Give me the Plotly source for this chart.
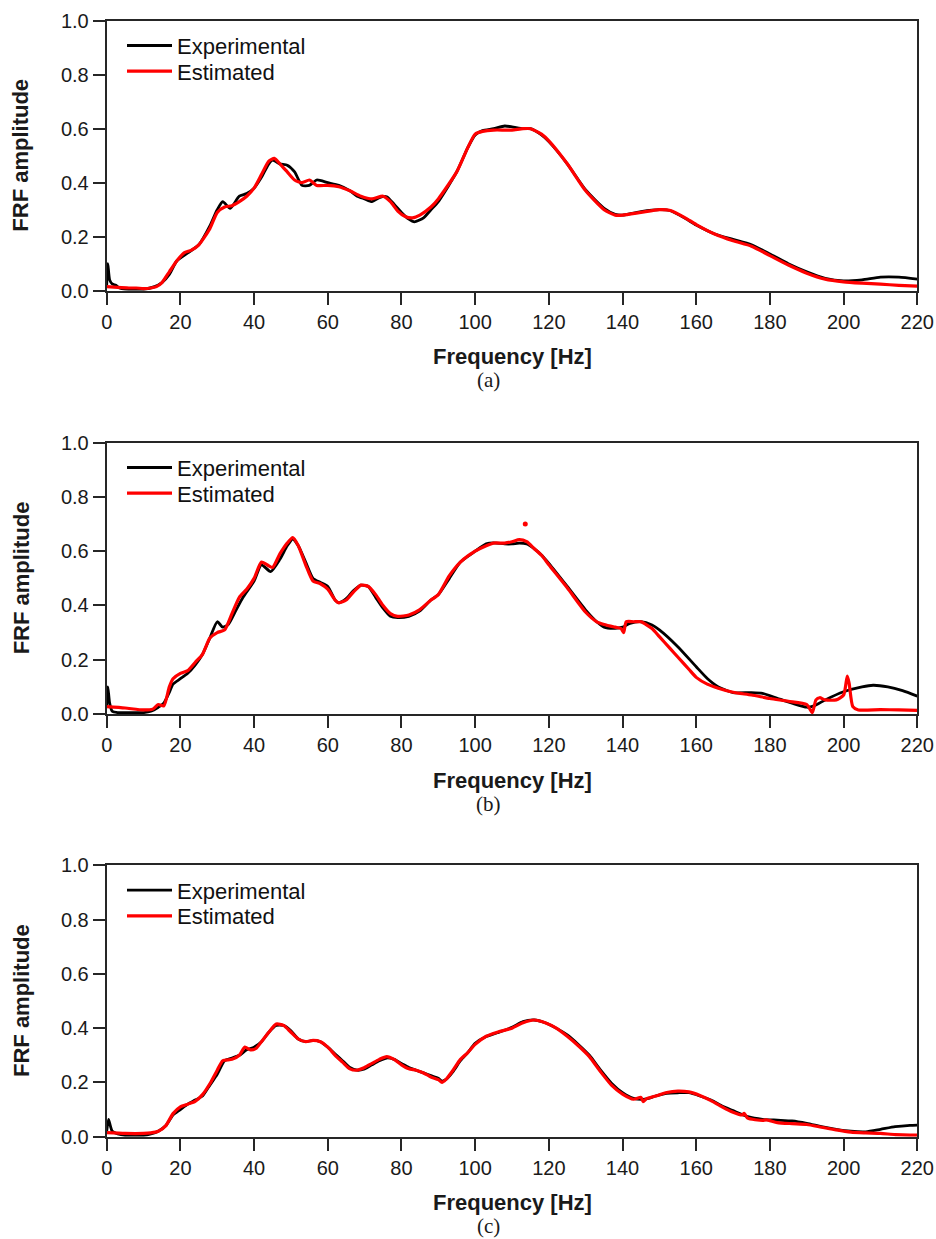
import plotly.graph_objects as go

# ---------------- data ----------------
# Panel (a)
fa_exp = [0, 0.3, 0.8, 1.5, 2.5, 3.5, 5, 8, 10, 13, 15, 17, 19, 22, 25, 28, 30, 31.5, 33.5, 36, 38, 40, 42, 44, 45, 47, 49, 51, 53, 55, 57, 60, 63, 66, 68, 70, 72, 74, 76, 78, 80, 82, 83.5, 86, 88, 90, 95, 98, 100, 102, 105, 108, 110, 113, 115, 118, 120, 125, 130, 135, 138, 140, 145, 150, 153, 157, 160, 165, 170, 175, 180, 185, 190, 195, 200, 205, 210, 215, 220]
va_exp = [0.02, 0.10, 0.04, 0.025, 0.02, 0.01, 0.006, 0.005, 0.005, 0.015, 0.03, 0.06, 0.11, 0.14, 0.17, 0.24, 0.30, 0.33, 0.305, 0.35, 0.36, 0.38, 0.42, 0.47, 0.484, 0.47, 0.465, 0.44, 0.39, 0.39, 0.41, 0.40, 0.39, 0.37, 0.35, 0.34, 0.33, 0.345, 0.348, 0.32, 0.29, 0.265, 0.255, 0.27, 0.30, 0.33, 0.44, 0.53, 0.577, 0.593, 0.60, 0.61, 0.607, 0.60, 0.60, 0.577, 0.552, 0.47, 0.373, 0.305, 0.283, 0.28, 0.293, 0.30, 0.296, 0.268, 0.243, 0.21, 0.19, 0.17, 0.136, 0.10, 0.07, 0.046, 0.036, 0.04, 0.05, 0.05, 0.043]
fa_est = [0, 3, 6, 8, 10, 12, 13.5, 15, 17, 19, 21, 23, 25, 28, 30, 32, 34, 36, 38, 40, 42, 44, 45.5, 47, 49, 51, 53, 55, 57, 60, 63, 66, 69, 72, 75, 77, 79, 81, 83, 85, 88, 90, 95, 98, 100, 102, 105, 108, 110, 113, 115, 118, 120, 125, 130, 135, 138, 140, 145, 150, 153, 157, 160, 165, 170, 175, 180, 185, 190, 195, 200, 205, 210, 215, 220]
va_est = [0.015, 0.012, 0.01, 0.01, 0.008, 0.01, 0.015, 0.03, 0.07, 0.11, 0.14, 0.15, 0.17, 0.23, 0.29, 0.31, 0.315, 0.33, 0.35, 0.38, 0.43, 0.48, 0.49, 0.47, 0.44, 0.41, 0.40, 0.41, 0.39, 0.39, 0.385, 0.37, 0.35, 0.34, 0.35, 0.33, 0.295, 0.275, 0.27, 0.28, 0.31, 0.34, 0.44, 0.53, 0.58, 0.59, 0.595, 0.595, 0.595, 0.60, 0.60, 0.58, 0.555, 0.47, 0.37, 0.30, 0.28, 0.28, 0.29, 0.30, 0.297, 0.27, 0.245, 0.21, 0.185, 0.165, 0.13, 0.095, 0.065, 0.043, 0.033, 0.028, 0.024, 0.02, 0.017]

# Panel (b)
fb_exp = [0, 0.3, 0.8, 1.5, 3, 5, 8, 10, 12, 14, 15.5, 17, 18, 20, 22, 24, 26, 28, 30, 31.5, 33, 35, 37, 40, 42, 44.5, 47, 49, 50.5, 52, 54, 56, 58, 60, 62, 63, 65, 67, 69, 71, 73, 75, 77, 79, 82, 85, 88, 90, 93, 96, 100, 103, 105, 108, 110, 112, 114, 116, 118, 120, 125, 130, 133, 135, 138, 140, 142, 145, 148, 150, 155, 160, 163, 166, 170, 175, 178, 182, 186, 190, 192, 195, 200, 205, 208, 212, 216, 220]
vb_exp = [0.03, 0.10, 0.04, 0.01, 0.005, 0.005, 0.005, 0.005, 0.01, 0.025, 0.04, 0.08, 0.11, 0.13, 0.15, 0.18, 0.22, 0.28, 0.34, 0.32, 0.33, 0.38, 0.43, 0.49, 0.55, 0.525, 0.57, 0.62, 0.645, 0.62, 0.56, 0.50, 0.485, 0.47, 0.42, 0.41, 0.425, 0.455, 0.475, 0.47, 0.43, 0.39, 0.36, 0.355, 0.36, 0.38, 0.42, 0.44, 0.50, 0.56, 0.60, 0.627, 0.631, 0.627, 0.627, 0.63, 0.627, 0.61, 0.586, 0.555, 0.47, 0.383, 0.34, 0.32, 0.316, 0.32, 0.334, 0.34, 0.328, 0.31, 0.248, 0.174, 0.131, 0.10, 0.079, 0.079, 0.076, 0.058, 0.04, 0.025, 0.03, 0.052, 0.082, 0.10, 0.106, 0.10, 0.086, 0.066]
fb_est = [0, 5, 10, 12.5, 14, 15.5, 17, 18, 20, 22, 24, 26, 28, 30, 32, 34, 36, 38, 40, 42, 43.5, 45, 47, 49, 50.5, 52, 54, 56, 58, 60, 62, 63, 65, 67, 69, 71, 73, 75, 77, 79, 82, 85, 88, 90, 93, 96, 100, 103, 105, 108, 110, 112, 114, 116, 118, 120, 125, 130, 133, 135, 138, 139.6, 140.3, 141, 143, 145, 148, 150, 153, 155, 158, 160, 163, 166, 170, 175, 180, 185, 190, 191.5, 192.5, 193.5, 195, 198, 200, 201, 201.5, 202.5, 204, 210, 215, 220]
vb_est = [0.027, 0.022, 0.015, 0.018, 0.035, 0.03, 0.10, 0.13, 0.15, 0.16, 0.19, 0.22, 0.28, 0.30, 0.31, 0.37, 0.43, 0.46, 0.50, 0.56, 0.55, 0.54, 0.59, 0.63, 0.65, 0.62, 0.55, 0.49, 0.48, 0.46, 0.42, 0.41, 0.42, 0.45, 0.475, 0.47, 0.44, 0.40, 0.37, 0.36, 0.365, 0.385, 0.42, 0.44, 0.51, 0.56, 0.60, 0.62, 0.63, 0.63, 0.635, 0.643, 0.635, 0.61, 0.585, 0.55, 0.465, 0.375, 0.34, 0.33, 0.32, 0.315, 0.30, 0.34, 0.34, 0.34, 0.315, 0.285, 0.24, 0.21, 0.165, 0.135, 0.11, 0.095, 0.08, 0.07, 0.057, 0.047, 0.035, 0.005, 0.052, 0.06, 0.052, 0.052, 0.07, 0.14, 0.113, 0.027, 0.015, 0.016, 0.015, 0.013]
fb_outlier = [113.6]
vb_outlier = [0.70]

# Panel (c)
fc_exp = [0, 0.5, 1, 1.5, 3, 5, 8, 10, 12, 14, 16, 18, 20, 22, 24, 26, 28, 30, 32, 34, 36, 38, 40, 42, 44, 46, 48, 50, 52, 54, 56, 58, 60, 62, 64, 66, 68, 70, 72, 74, 76, 78, 80, 82, 84, 86, 88, 90, 91, 92, 94, 96, 98, 100, 103, 106, 110, 113, 116, 119, 122, 125, 128, 131, 134, 137, 140, 143, 146, 149, 152, 155, 158, 161, 164, 167, 170, 174, 178, 182, 186, 190, 194, 198, 202, 206, 210, 214, 218, 220]
vc_exp = [0.02, 0.064, 0.04, 0.02, 0.01, 0.005, 0.005, 0.005, 0.01, 0.02, 0.04, 0.08, 0.10, 0.12, 0.135, 0.15, 0.19, 0.23, 0.28, 0.29, 0.30, 0.32, 0.33, 0.35, 0.385, 0.41, 0.41, 0.39, 0.36, 0.35, 0.355, 0.35, 0.33, 0.305, 0.28, 0.255, 0.245, 0.25, 0.265, 0.28, 0.29, 0.285, 0.27, 0.255, 0.245, 0.235, 0.225, 0.215, 0.205, 0.21, 0.24, 0.28, 0.31, 0.344, 0.369, 0.383, 0.403, 0.424, 0.43, 0.42, 0.40, 0.375, 0.34, 0.30, 0.246, 0.197, 0.162, 0.141, 0.138, 0.15, 0.16, 0.162, 0.162, 0.15, 0.135, 0.113, 0.096, 0.074, 0.064, 0.061, 0.058, 0.049, 0.037, 0.027, 0.02, 0.018, 0.027, 0.037, 0.042, 0.043]
fc_est = [0, 5, 10, 12, 14, 16, 18, 20, 22, 24, 26, 28, 30, 31.5, 34, 36, 37.5, 39, 40.5, 42, 44, 46, 48, 50, 52, 54, 56, 58, 60, 62, 64, 66, 68, 70, 72, 74, 76, 78, 80, 82, 84, 86, 88, 90, 91, 92, 94, 96, 98, 100, 103, 106, 110, 113, 116, 119, 122, 125, 128, 131, 134, 137, 140, 143, 145, 145.6, 146.5, 149, 152, 155, 158, 161, 164, 167, 170, 172.5, 173, 174, 178, 179, 182, 186, 190, 194, 198, 202, 206, 210, 214, 218, 220]
vc_est = [0.015, 0.012, 0.012, 0.014, 0.02, 0.04, 0.085, 0.11, 0.12, 0.13, 0.155, 0.195, 0.245, 0.28, 0.285, 0.30, 0.33, 0.32, 0.325, 0.35, 0.385, 0.415, 0.41, 0.385, 0.36, 0.35, 0.355, 0.35, 0.33, 0.30, 0.275, 0.25, 0.245, 0.255, 0.27, 0.285, 0.295, 0.285, 0.265, 0.25, 0.245, 0.235, 0.22, 0.21, 0.20, 0.21, 0.245, 0.285, 0.31, 0.34, 0.37, 0.385, 0.40, 0.42, 0.43, 0.42, 0.40, 0.37, 0.335, 0.295, 0.24, 0.19, 0.157, 0.138, 0.145, 0.129, 0.14, 0.15, 0.163, 0.168, 0.165, 0.152, 0.133, 0.11, 0.09, 0.08, 0.086, 0.068, 0.06, 0.062, 0.052, 0.048, 0.045, 0.035, 0.025, 0.017, 0.014, 0.012, 0.008, 0.006, 0.006]

x_ticks = [0, 20, 40, 60, 80, 100, 120, 140, 160, 180, 200, 220]
y_ticks = [0.0, 0.2, 0.4, 0.6, 0.8, 1.0]
series_names = ["Experimental", "Estimated"]
captions = ["(a)", "(b)", "(c)"]
x_title = "Frequency [Hz]"
y_title = "FRF amplitude"

# ---------------- layout geometry (pixels) ----------------
W, H = 936, 1239
PX_L, PX_R = 106.7, 917.3
panels_px = [(20.7, 290.7), (442.7, 714.0), (865.3, 1136.7)]  # (top, bottom)
LEGEND_OFFSETS = [4.0, 29.7]  # legend-box top below panel top, per series

def xp(px):
    return px / W

def yp(py):
    return 1 - py / H

SANS = "Liberation Sans, Arial, sans-serif"
SERIF = "Liberation Serif, Times New Roman, serif"
AX_COLOR = "#262626"
TXT_COLOR = "#1a1a1a"

panels = [
    (fa_exp, va_exp, fa_est, va_est),
    (fb_exp, vb_exp, fb_est, vb_est),
    (fc_exp, vc_exp, fc_est, vc_est),
]
styles = [dict(color="black", width=2.8), dict(color="#ff0000", width=3.2)]

fig = go.Figure()
layout = dict(
    width=W, height=H,
    margin=dict(l=0, r=0, t=0, b=0),
    paper_bgcolor="white", plot_bgcolor="white",
    showlegend=True,
    annotations=[],
)

for i, (fe, ve, fs, vs) in enumerate(panels):
    n = "" if i == 0 else str(i + 1)
    xa, ya = "x" + n, "y" + n
    top, bot = panels_px[i]
    for j, (fx, vy) in enumerate([(fe, ve), (fs, vs)]):
        k = 2 * i + j + 1
        lg = "legend" if k == 1 else "legend%d" % k
        fig.add_trace(go.Scatter(
            x=fx, y=vy, mode="lines", name=series_names[j],
            line=dict(shape="spline", smoothing=0.6, **styles[j]),
            xaxis=xa, yaxis=ya, legend=lg, hoverinfo="skip"))
        layout[lg] = dict(
            x=xp(122), y=yp(top + LEGEND_OFFSETS[j]), xanchor="left", yanchor="top",
            bgcolor="rgba(0,0,0,0)", borderwidth=0, itemwidth=45,
            font=dict(family=SANS, size=22, color="#111111"),
        )
    if i == 1:
        fig.add_trace(go.Scatter(
            x=fb_outlier, y=vb_outlier, mode="markers",
            marker=dict(color="#ff0000", size=5),
            xaxis=xa, yaxis=ya, showlegend=False, hoverinfo="skip"))

    axis_common = dict(
        ticks="outside", ticklen=12, tickwidth=2, tickcolor=AX_COLOR,
        showline=True, linewidth=2, linecolor=AX_COLOR, mirror=True,
        showgrid=False, zeroline=False, automargin=False,
        tickfont=dict(family=SANS, size=20, color=TXT_COLOR),
        tickmode="array",
    )
    layout["xaxis" + n] = dict(domain=[xp(PX_L), xp(PX_R)], anchor=ya, range=[0, 220],
                               tickvals=x_ticks, **axis_common)
    layout["yaxis" + n] = dict(domain=[yp(bot), yp(top)], anchor=xa, range=[0, 1],
                               tickvals=y_ticks, tickformat=".1f", **axis_common)
    layout["annotations"] += [
        dict(text="<b>" + y_title + "</b>", textangle=-90, x=xp(21), y=yp((top + bot) / 2),
             xref="paper", yref="paper", showarrow=False, xanchor="center", yanchor="middle",
             font=dict(family=SANS, size=22, color=TXT_COLOR)),
        dict(text="<b>" + x_title + "</b>", x=xp((PX_L + PX_R) / 2), y=yp(bot + 66),
             xref="paper", yref="paper", showarrow=False, xanchor="center", yanchor="middle",
             font=dict(family=SANS, size=22, color=TXT_COLOR)),
        dict(text=captions[i], x=xp(488), y=yp(bot + 89.5),
             xref="paper", yref="paper", showarrow=False, xanchor="center", yanchor="middle",
             font=dict(family=SERIF, size=21, color=TXT_COLOR)),
    ]

fig.update_layout(**layout)
fig.write_html("out.html")
